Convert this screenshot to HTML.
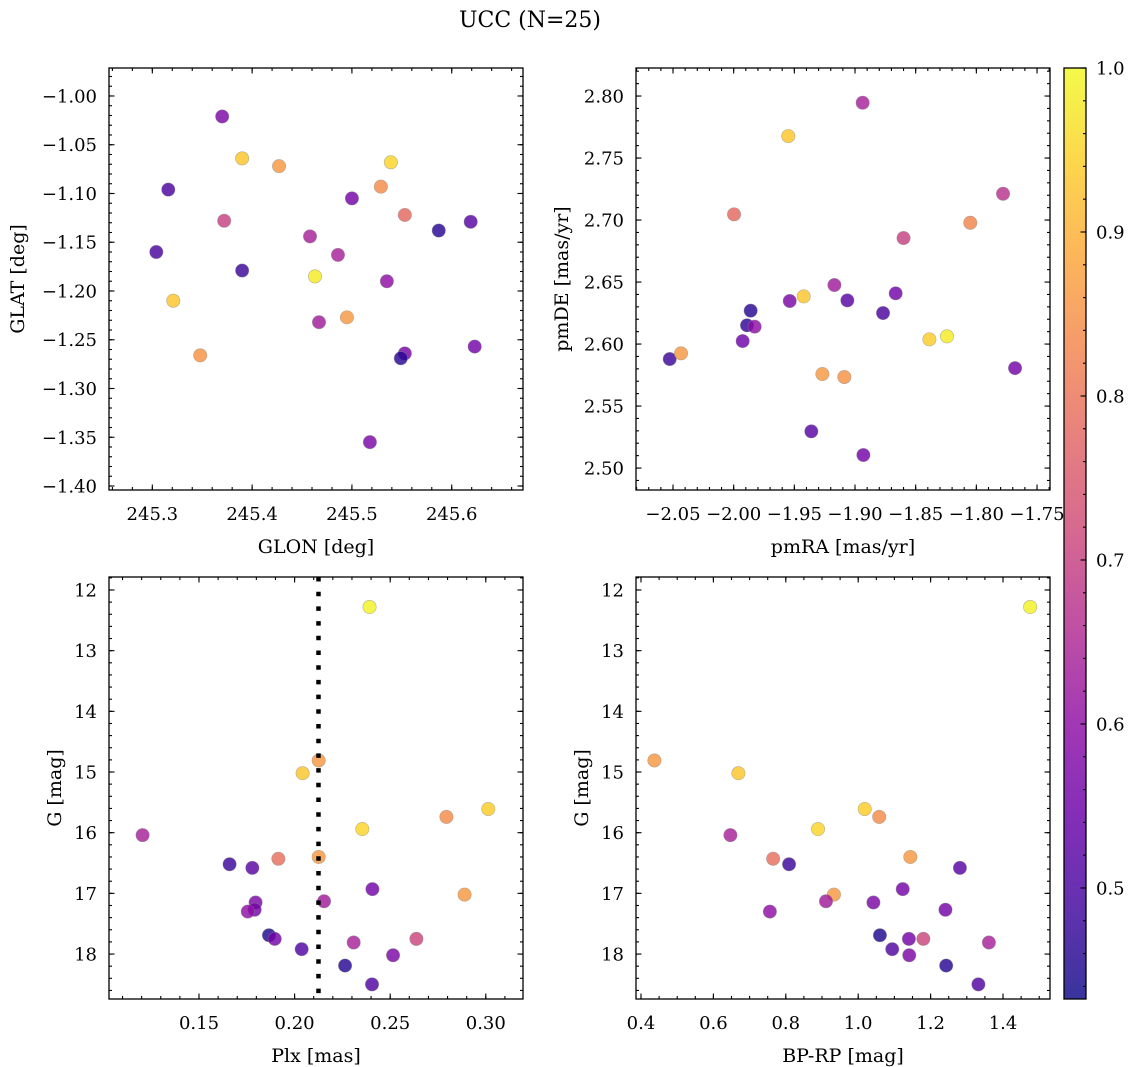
<!DOCTYPE html>
<html><head><meta charset="utf-8"><style>
html,body{margin:0;padding:0;background:#fff;}
svg{display:block;font-family:"DejaVu Serif","Liberation Serif",serif;}
</style></head><body>
<svg id="fig" width="1136" height="1067" viewBox="0 0 1136 1067" xmlns="http://www.w3.org/2000/svg">
<rect width="1136" height="1067" fill="#fff"/>
<text x="530" y="27" text-anchor="middle" font-size="22" fill="#000">UCC (N=25)</text>
<defs><linearGradient id="plasmaGrad" x1="0" y1="1" x2="0" y2="0"></linearGradient></defs>
</svg>
<script>
// Panel 1: GLON vs GLAT
const glon=[245.370,245.390,245.427,245.316,245.539,245.529,245.500,245.553,245.372,245.587,245.619,245.458,245.304,245.486,245.390,245.463,245.535,245.321,245.495,245.467,245.348,245.553,245.549,245.623,245.518];
const glat=[-1.021,-1.064,-1.072,-1.096,-1.068,-1.093,-1.105,-1.122,-1.128,-1.138,-1.129,-1.144,-1.160,-1.163,-1.179,-1.185,-1.190,-1.210,-1.227,-1.232,-1.266,-1.264,-1.269,-1.257,-1.355];
const prob1=[0.57,0.93,0.86,0.50,0.95,0.84,0.56,0.78,0.70,0.46,0.52,0.64,0.50,0.64,0.48,0.98,0.60,0.93,0.86,0.63,0.85,0.56,0.46,0.56,0.57];
// Panel 2: pmRA vs pmDE
const pmra=[-1.8937,-1.955,-1.778,-1.9997,-1.805,-1.860,-1.917,-1.9538,-1.9423,-1.9063,-1.8665,-1.8769,-1.986,-1.989,-1.9827,-1.9926,-2.0527,-2.0434,-1.8387,-1.8242,-1.7681,-1.9269,-1.9088,-1.936,-1.8931];
const pmde=[2.7946,2.7677,2.7212,2.7046,2.6978,2.6855,2.6476,2.6347,2.6384,2.6352,2.6409,2.6250,2.6269,2.6151,2.6140,2.6024,2.5879,2.5925,2.6038,2.6062,2.5806,2.5758,2.5734,2.5296,2.5105];
const prob2=[0.64,0.93,0.67,0.78,0.83,0.70,0.63,0.57,0.93,0.52,0.56,0.50,0.46,0.47,0.60,0.55,0.48,0.86,0.94,0.98,0.56,0.86,0.85,0.52,0.56];
// Panels 3 & 4: Plx / BP-RP vs G
const plx=[0.2126,0.2042,0.3013,0.2794,0.2354,0.1205,0.1915,0.1660,0.2126,0.1779,0.2407,0.2889,0.2154,0.1796,0.1791,0.1755,0.1866,0.1896,0.2037,0.2309,0.2637,0.2515,0.2264,0.2405,0.2392];
const gmag=[14.81,15.02,15.61,15.74,15.94,16.04,16.43,16.52,16.40,16.58,16.93,17.02,17.13,17.15,17.27,17.30,17.69,17.75,17.92,17.81,17.75,18.02,18.19,18.50,12.28];
const bprp=[0.437,0.669,1.018,1.058,0.889,0.647,0.765,0.809,1.144,1.281,1.123,0.933,0.911,1.042,1.241,0.756,1.060,1.140,1.094,1.361,1.180,1.141,1.243,1.332,1.475];
const prob34=[0.86,0.93,0.94,0.84,0.95,0.64,0.79,0.48,0.86,0.52,0.56,0.86,0.63,0.57,0.56,0.60,0.45,0.56,0.51,0.64,0.71,0.57,0.46,0.51,0.99];
const plxMedian=[0.2125];
// Tick label arrays
const p1xTicks=[245.3,245.4,245.5,245.6];
const p1yTicks=[-1.00,-1.05,-1.10,-1.15,-1.20,-1.25,-1.30,-1.35,-1.40];
const p2xTicks=[-2.05,-2.00,-1.95,-1.90,-1.85,-1.80,-1.75];
const p2yTicks=[2.50,2.55,2.60,2.65,2.70,2.75,2.80];
const p3xTicks=[0.15,0.20,0.25,0.30];
const gTicks=[12,13,14,15,16,17,18];
const p4xTicks=[0.4,0.6,0.8,1.0,1.2,1.4];
const cbTicks=[0.5,0.6,0.7,0.8,0.9,1.0];
const cbRange=[0.4323,1.0];

const NS="http://www.w3.org/2000/svg";
const svg=document.getElementById('fig');
const plasma=[[13,8,135],[65,4,157],[106,0,168],[143,13,164],[177,42,144],[204,71,120],[225,100,98],[242,132,75],[252,166,54],[252,206,37],[240,249,33]];
function cmap(v){
  let t=(v-cbRange[0])/(cbRange[1]-cbRange[0]);t=Math.max(0,Math.min(1,t));
  const f=t*10,i=Math.min(9,Math.floor(f)),r=f-i;
  const a=plasma[i],b=plasma[i+1];
  return 'rgb('+[0,1,2].map(k=>Math.round(a[k]+(b[k]-a[k])*r)).join(',')+')';
}
function el(tag,attrs,parent){const e=document.createElementNS(NS,tag);for(const k in attrs)e.setAttribute(k,attrs[k]);(parent||svg).appendChild(e);return e;}
function fmt(v,d){return (v<0?'\u2212':'')+Math.abs(v).toFixed(d);}

function panel(o){
  const g=el('g',{});
  
  
  const sx=v=>o.x0+(v-o.xd[0])/(o.xd[1]-o.xd[0])*o.w;
  const sy=v=>o.y0+o.h-(v-o.yd[0])/(o.yd[1]-o.yd[0])*o.h;
  const pg=el('g',{},g);
  
  
  for(let i=0;i<o.xs.length;i++){
    const c=el('circle',{cx:sx(o.xs[i]),cy:sy(o.ys[i]),r:6.7,fill:cmap(o.c[i]),'fill-opacity':0.82,stroke:'#888','stroke-opacity':0.6,'stroke-width':0.6},pg);
    
    
  }
  if(o.vline){
    for(const v of o.vline){
      const l=el('line',{x1:sx(v),x2:sx(v),y1:o.y0,y2:o.y0+o.h,stroke:'#000','stroke-width':4.5,'stroke-dasharray':'4.5 10.2'},g);
      
      
    }
  }
  const fr=el('rect',{x:o.x0,y:o.y0,width:o.w,height:o.h,fill:'none',stroke:'#000','stroke-width':1.3},g);
  
  
  const tg=el('g',{stroke:'#000','stroke-width':1.1},g);
  const inX=v=>{const p=sx(v);return p>=o.x0-0.5&&p<=o.x0+o.w+0.5;};
  const inY=v=>{const p=sy(v);return p>=o.y0-0.5&&p<=o.y0+o.h+0.5;};
  function minors(d,step){const lo=Math.min(d[0],d[1]),hi=Math.max(d[0],d[1]);const r=[];for(let k=Math.ceil(lo/step-1e-9);k<=Math.floor(hi/step+1e-9);k++)r.push(k*step);return r;}
  for(const v of minors(o.xd,o.xMinor)){const p=sx(v);el('line',{x1:p,x2:p,y1:o.y0+o.h,y2:o.y0+o.h-3},tg);el('line',{x1:p,x2:p,y1:o.y0,y2:o.y0+3},tg);}
  for(const v of minors(o.yd,o.yMinor)){const p=sy(v);el('line',{x1:o.x0,x2:o.x0+3,y1:p,y2:p},tg);el('line',{x1:o.x0+o.w,x2:o.x0+o.w-3,y1:p,y2:p},tg);}
  for(const v of o.xTicks){if(!inX(v))continue;const p=sx(v);el('line',{x1:p,x2:p,y1:o.y0+o.h,y2:o.y0+o.h-5.5},tg);el('line',{x1:p,x2:p,y1:o.y0,y2:o.y0+5.5},tg);
    const t=el('text',{x:p,y:o.y0+o.h+30,'text-anchor':'middle','font-size':18},g);t.textContent=fmt(v,o.xDec);
    
    }
  for(const v of o.yTicks){if(!inY(v))continue;const p=sy(v);el('line',{x1:o.x0,x2:o.x0+5.5,y1:p,y2:p},tg);el('line',{x1:o.x0+o.w,x2:o.x0+o.w-5.5,y1:p,y2:p},tg);
    const t=el('text',{x:o.x0-12,y:p+6.5,'text-anchor':'end','font-size':18},g);t.textContent=fmt(v,o.yDec);
    
    }
  const xl=el('text',{x:o.x0+o.w/2,y:o.y0+o.h+63,'text-anchor':'middle','font-size':19},g);xl.textContent=o.xlabel;
  
  
  const yl=el('text',{x:o.ylx,y:o.y0+o.h/2,'text-anchor':'middle','font-size':19,transform:'rotate(-90 '+o.ylx+' '+(o.y0+o.h/2)+')'},g);yl.textContent=o.ylabel;
  
  
}

panel({name:'glon-glat-panel',x0:109,y0:68,w:414,h:422,xd:[245.2566,245.6714],yd:[-1.4041,-0.9713],xs:glon,ys:glat,c:prob1,xTicks:p1xTicks,yTicks:p1yTicks,xDec:1,yDec:2,xMinor:0.02,yMinor:0.01,xlabel:'GLON [deg]',ylabel:'GLAT [deg]',ylx:24});
panel({name:'proper-motion-panel',x0:636,y0:68,w:414,h:422,xd:[-2.0805,-1.7393],yd:[2.4823,2.8226],xs:pmra,ys:pmde,c:prob2,xTicks:p2xTicks,yTicks:p2yTicks,xDec:2,yDec:2,xMinor:0.01,yMinor:0.01,xlabel:'pmRA [mas/yr]',ylabel:'pmDE [mas/yr]',ylx:568});
panel({name:'plx-g-panel',x0:109,y0:577,w:414,h:422,xd:[0.10293,0.31946],yd:[18.741,11.786],xs:plx,ys:gmag,c:prob34,xTicks:p3xTicks,yTicks:gTicks,xDec:2,yDec:0,xMinor:0.01,yMinor:0.2,xlabel:'Plx [mas]',ylabel:'G [mag]',ylx:61,vline:plxMedian});
panel({name:'cmd-panel',x0:636,y0:577,w:414,h:422,xd:[0.3862,1.5298],yd:[18.741,11.786],xs:bprp,ys:gmag,c:prob34,xTicks:p4xTicks,yTicks:gTicks,xDec:1,yDec:0,xMinor:0.05,yMinor:0.2,xlabel:'BP-RP [mag]',ylabel:'G [mag]',ylx:588});

(function(){
  const x0=1064,y0=68,w=22,h=931;
  const grad=document.getElementById('plasmaGrad');
  for(let i=0;i<=20;i++){const v=cbRange[0]+(cbRange[1]-cbRange[0])*i/20;el('stop',{offset:(i/20),'stop-color':cmap(v)},grad);}
  const g=el('g',{});
  
  
  el('rect',{x:x0,y:y0,width:w,height:h,fill:'url(#plasmaGrad)','fill-opacity':0.82},g);
  el('rect',{x:x0,y:y0,width:w,height:h,fill:'none',stroke:'#000','stroke-width':1.3},g);
  const sy=v=>y0+h-(v-cbRange[0])/(cbRange[1]-cbRange[0])*h;
  for(let k=Math.ceil(cbRange[0]/0.02);k<=Math.floor(cbRange[1]/0.02+1e-9);k++){const p=sy(k*0.02);el('line',{x1:x0+w,x2:x0+w-3,y1:p,y2:p,stroke:'#000','stroke-width':1.1},g);}
  for(const v of cbTicks){const p=sy(v);el('line',{x1:x0+w,x2:x0+w-5.5,y1:p,y2:p,stroke:'#000','stroke-width':1.1},g);
    const t=el('text',{x:x0+w+10,y:p+6.5,'font-size':18},g);t.textContent=v.toFixed(1);
    
    }
})();
</script>
</body></html>
